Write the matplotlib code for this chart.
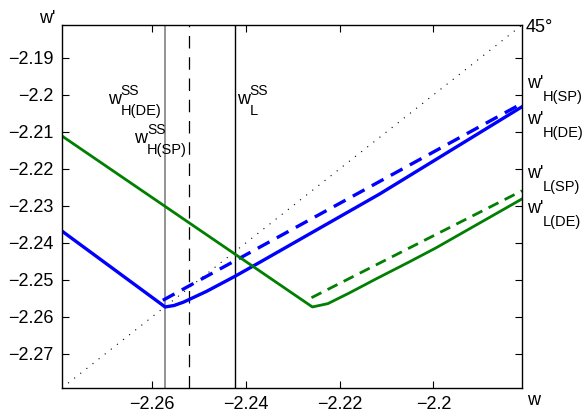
import matplotlib
matplotlib.use("Agg")
import matplotlib.pyplot as plt

plt.rcParams['font.family'] = ['Liberation Sans', 'DejaVu Sans']

# axis range (square: 45 degree line runs corner to corner)
lim = [-2.2792, -2.1811]

# blue solid: H, DE
h_de_x = [-2.2792, -2.2572, -2.2553, -2.2533, -2.2484, -2.2423, -2.2374, -2.2115, -2.1811]
h_de_y = [-2.2368, -2.2573, -2.2569, -2.2560, -2.2531, -2.2490, -2.2455, -2.2268, -2.2032]
# blue dashed: H, SP
h_sp_x = [-2.2577, -2.1811]
h_sp_y = [-2.2555, -2.2023]
# green solid: L, DE
l_de_x = [-2.2792, -2.2258, -2.2225, -2.2179, -2.2122, -2.2051, -2.1994, -2.1811]
l_de_y = [-2.2111, -2.2573, -2.2564, -2.2535, -2.2497, -2.2451, -2.2413, -2.2281]
# green dashed: L, SP
l_sp_x = [-2.2260, -2.1811]
l_sp_y = [-2.2548, -2.2259]

# steady states
ss_h_de = -2.2572
ss_h_sp = -2.2521
ss_l = -2.2423

xticks = [-2.26, -2.24, -2.22, -2.2]
yticks = [-2.27, -2.26, -2.25, -2.24, -2.23, -2.22, -2.21, -2.2, -2.19]

W, H = 587, 412
fig = plt.figure(figsize=(W / 100, H / 100), dpi=100)
ax = fig.add_axes([62/W, 1 - 388/H, 460/W, 363/H])

ax.plot(lim, lim, color='black', linestyle=(0, (1, 6)), linewidth=0.8)
ax.axvline(ss_h_de, color='gray', linewidth=1.2)
ax.axvline(ss_h_sp, color='black', linestyle=(0, (10, 7)), linewidth=0.9)
ax.axvline(ss_l, color='black', linewidth=1.0)

ax.plot(h_de_x, h_de_y, color='#0000ff', linewidth=2.4)
ax.plot(h_sp_x, h_sp_y, color='#0000ff', linewidth=2.4, linestyle=(0, (4, 2.5)))
ax.plot(l_de_x, l_de_y, color='#007f00', linewidth=2.0)
ax.plot(l_sp_x, l_sp_y, color='#007f00', linewidth=2.0, linestyle=(0, (4, 2.5)))

ax.set_xlim(lim)
ax.set_ylim(lim)
ax.set_xticks(xticks)
ax.set_xticklabels(['\u22122.26', '\u22122.24', '\u22122.22', '\u22122.2'])
ax.set_yticks(yticks)
ax.set_yticklabels(['\u2212%g' % abs(v) for v in yticks])
ax.tick_params(direction='in', length=5, width=0.8, top=True, right=True,
               labelsize=13, pad=6)
for s in ax.spines.values():
    s.set_linewidth(1.0)


def ptext(x, y, s, size):
    # x, y in pixels from top-left, y is the text baseline
    fig.text(x / W, 1 - y / H, s, fontsize=size, ha='left', va='baseline')


# steady state labels: w, superscript SS, subscript
ptext(108, 104, 'w', 13)
ptext(120, 95, 'SS', 10)
ptext(120.5, 115, 'H(DE)', 10.5)

ptext(134, 143, 'w', 13)
ptext(147, 134, 'SS', 10)
ptext(147, 154, 'H(SP)', 10.5)

ptext(237, 104, 'w', 13)
ptext(249.5, 95, 'SS', 10)
ptext(249.5, 115, 'L', 10.5)

# right side labels
ptext(526, 31.5, '45\u00b0', 13)
for b, sub in [(88, 'H(SP)'), (124, 'H(DE)'), (178, 'L(SP)'), (213, 'L(DE)')]:
    ptext(527, b, "w'", 13)
    ptext(543, b + 13, sub, 10.5)

# axis names
ptext(39, 23, "w'", 13)
ptext(527, 405, 'w', 13)

fig.savefig('out.png', dpi=100)
